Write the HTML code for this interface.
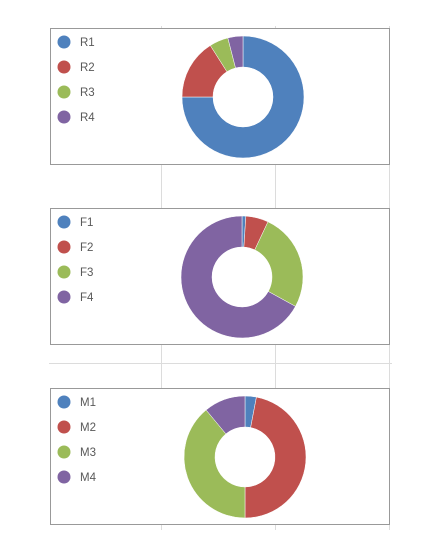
<!DOCTYPE html>
<html><head><meta charset="utf-8"><style>
body{margin:0;background:#fff;width:437px;height:550px;overflow:hidden;font-family:"Liberation Sans",sans-serif}
svg{display:block}
</style></head><body>
<svg width="437" height="550">
<g stroke="#dcdcdc" stroke-width="1">
<line x1="161.5" y1="26" x2="161.5" y2="530"/>
<line x1="275.5" y1="26" x2="275.5" y2="530"/>
<line x1="389.5" y1="26" x2="389.5" y2="530"/>
<line x1="49" y1="363.5" x2="392" y2="363.5"/>
</g>
<g id="charts"></g>
</svg>
<script>
const labelsR=["R1","R2","R3","R4"];
const valuesR=[75,16,5,4];
const labelsF=["F1","F2","F3","F4"];
const valuesF=[1,6,26,67];
const labelsM=["M1","M2","M3","M4"];
const valuesM=[3,47,39,11];
const colors=["#4f81bd","#c0504d","#9bbb59","#8064a2"];
const NS="http://www.w3.org/2000/svg";
const root=document.getElementById('charts');
function mk(t,a,p){const e=document.createElementNS(NS,t);for(const k in a)e.setAttribute(k,a[k]);p.appendChild(e);return e;}
function chart(name,top,labels,values,cx,cy){
  const g=mk('g',{},root);
  
  
  const box=mk('rect',{x:50.5,y:top+0.5,width:339,height:136,fill:'#fff',stroke:'#999','stroke-width':1},g);
  
  
  labels.forEach((l,i)=>{
    const y=top+14+i*25;
    const c=mk('circle',{cx:64,cy:y,r:6.5,fill:colors[i]},g);
    
    
    const t=mk('text',{x:80,y:y+4,'font-size':11.5,fill:'#595959'},g);
    t.textContent=l;
    
    
  });
  const total=values.reduce((a,b)=>a+b,0);
  const R=61,r=30;let a0=0;
  values.forEach((v,i)=>{
    const a1=a0+v/total*2*Math.PI;
    const p=(a,rad)=>[cx+rad*Math.sin(a),cy-rad*Math.cos(a)];
    const [x0,y0]=p(a0,R),[x1,y1]=p(a1,R),[x2,y2]=p(a1,r),[x3,y3]=p(a0,r);
    const lg=(a1-a0)>Math.PI?1:0;
    const d=`M${x0},${y0}A${R},${R} 0 ${lg} 1 ${x1},${y1}L${x2},${y2}A${r},${r} 0 ${lg} 0 ${x3},${y3}Z`;
    const s=mk('path',{d:d,fill:colors[i],stroke:'#fff','stroke-width':0.5},g);
    
    
    a0=a1;
  });
}
chart('chart-r',28,labelsR,valuesR,243,97);
chart('chart-f',208,labelsF,valuesF,242,277);
chart('chart-m',388,labelsM,valuesM,245,457);
</script>
</body></html>
